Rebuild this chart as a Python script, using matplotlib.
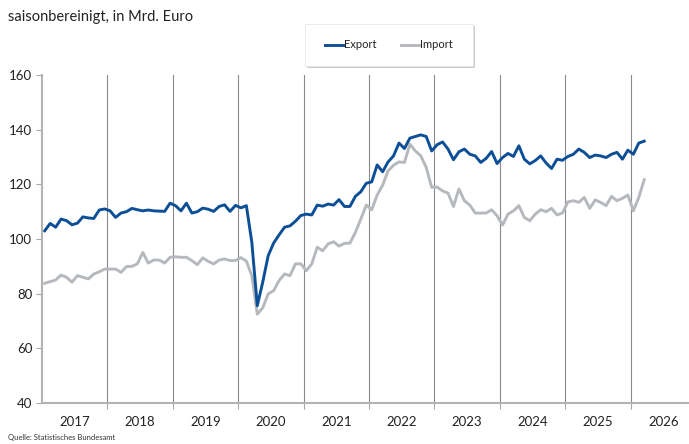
import numpy as np
import matplotlib
matplotlib.use("Agg")
import matplotlib.pyplot as plt
from matplotlib.patches import Rectangle

plt.rcParams['font.family'] = ['Lato', 'DejaVu Sans']

# monthly values, Jan 2017 .. Mar 2026 (Mrd. Euro, saisonbereinigt)
export = [
    103.0, 105.7, 104.3, 107.3, 106.7, 105.2, 105.8, 108.1, 107.7, 107.5, 110.6, 111.0,  # 2017
    110.3, 107.9, 109.5, 110.0, 111.2, 110.7, 110.3, 110.6, 110.3, 110.2, 110.1, 113.1,  # 2018
    112.2, 110.3, 113.1, 109.5, 110.0, 111.3, 110.9, 110.1, 111.9, 112.5, 110.1, 112.3,  # 2019
    111.4, 112.2, 98.8, 75.6, 84.2, 93.9, 98.5, 101.5, 104.3, 104.8, 106.5, 108.6,      # 2020
    109.1, 108.8, 112.4, 112.0, 112.8, 112.4, 114.4, 111.9, 111.9, 115.6, 117.3, 120.4,  # 2021
    120.9, 127.1, 124.6, 128.2, 130.4, 135.1, 133.1, 136.9, 137.5, 138.1, 137.5, 132.2,  # 2022
    134.5, 135.5, 132.9, 129.0, 131.9, 132.9, 131.0, 130.4, 128.0, 129.5, 132.0, 127.6,  # 2023
    129.8, 131.3, 130.2, 134.1, 129.2, 127.5, 128.7, 130.4, 127.8, 125.8, 129.2, 128.8,  # 2024
    130.2, 131.0, 132.9, 131.7, 129.8, 130.7, 130.4, 129.8, 131.0, 131.7, 129.2, 132.5,  # 2025
    131.0, 135.1, 135.8,                                                                 # 2026
]
imports = [
    83.8, 84.4, 85.0, 86.8, 86.0, 84.2, 86.6, 86.0, 85.4, 87.2, 88.0, 89.0,
    89.0, 89.0, 87.8, 89.9, 90.0, 90.9, 95.1, 91.2, 92.3, 92.3, 91.2, 93.3,
    93.5, 93.3, 93.3, 92.1, 90.6, 93.1, 91.8, 90.9, 92.3, 92.7, 92.1, 92.1,
    93.2, 91.9, 86.6, 72.5, 74.8, 79.9, 81.1, 84.8, 87.2, 86.6, 90.9, 90.9,
    88.4, 90.9, 97.0, 95.7, 98.2, 99.0, 97.4, 98.4, 98.5, 102.4, 107.3, 112.4,
    110.7, 116.1, 119.7, 124.9, 127.0, 128.2, 128.0, 134.7, 132.2, 130.4, 126.2, 118.9,
    119.0, 117.6, 116.8, 111.9, 118.3, 114.0, 112.4, 109.5, 109.5, 109.5, 110.7, 108.5,
    105.1, 109.1, 110.3, 112.2, 107.9, 106.7, 109.1, 110.7, 110.0, 111.2, 108.8, 109.5,
    113.6, 114.0, 113.4, 115.2, 111.2, 114.3, 113.4, 112.2, 115.6, 114.0, 114.9, 116.1,
    110.3, 115.2, 121.7,
]
years = list(range(2017, 2027))
yticks = [40, 60, 80, 100, 120, 140, 160]

col_exp = '#0d4f96'
col_imp = '#b5b9bd'

x = 2017 + (np.arange(len(export)) + 0.5) / 12.0

fig = plt.figure(figsize=(6.89, 4.44), dpi=100)
ax = fig.add_axes([42/689, 1 - 403/444, 1 - 42/689, (403 - 75)/444])

# year separators
for yr in years[1:]:
    ax.axvline(yr, color='#8a8a8a', lw=0.8, zorder=1)

ax.plot(x, imports, color=col_imp, lw=2.1, solid_joinstyle='round', zorder=3)
ax.plot(x, export, color=col_exp, lw=2.1, solid_joinstyle='round', zorder=4)

ax.set_xlim(2017, 2017 + 647/65.4)
ax.set_ylim(40, 160)
ax.set_yticks(yticks)
ax.tick_params(axis='y', length=4, width=0.8, color='#a6a6a6', labelsize=9.5,
               labelcolor='#222222', pad=3)

ax.set_xticks(years[1:])
ax.set_xticklabels([])
ax.set_xticks([yr + 0.5 for yr in years], minor=True)
ax.set_xticklabels([str(yr) for yr in years], minor=True)
ax.tick_params(axis='x', which='major', length=4, width=0.8, color='#a6a6a6')
ax.tick_params(axis='x', which='minor', length=0, labelsize=9.5,
               labelcolor='#222222', pad=9)

for s in ['top', 'right']:
    ax.spines[s].set_visible(False)
ax.spines['left'].set_color('#b3b3b3')
ax.spines['left'].set_linewidth(1.5)
ax.spines['bottom'].set_color('#b3b3b3')
ax.spines['bottom'].set_linewidth(1.5)

fig.text(8/689, 1 - 17/444, 'saisonbereinigt, in Mrd. Euro', fontsize=10.5,
         color='#222222', va='center', ha='left')
fig.text(8/689, 1 - 437/444, 'Quelle: Statistisches Bundesamt', fontsize=5.5,
         color='#333333', va='center', ha='left')

# legend box with shadow
bx, by, bw, bh = 305/689, 1 - 66/444, 168/689, 42/444
fig.patches.append(Rectangle((bx + 2/689, by - 2/444), bw, bh, transform=fig.transFigure,
                             facecolor='#cccccc', edgecolor='none', zorder=1))
fig.patches.append(Rectangle((bx, by), bw, bh, transform=fig.transFigure,
                             facecolor='white', edgecolor='#e6e6e6', lw=0.6, zorder=2))
h1, = ax.plot([], [], color=col_exp, lw=2.1)
h2, = ax.plot([], [], color=col_imp, lw=2.1)
leg = fig.legend([h1, h2], ['Export', 'Import'], loc='center',
                 bbox_to_anchor=(389/689, 1 - 45/444), ncol=2, frameon=False,
                 fontsize=8, handlelength=1.6, handletextpad=0.1, columnspacing=2.2)
for t in leg.get_texts():
    t.set_color('#222222')

fig.savefig('out.png', dpi=100)
